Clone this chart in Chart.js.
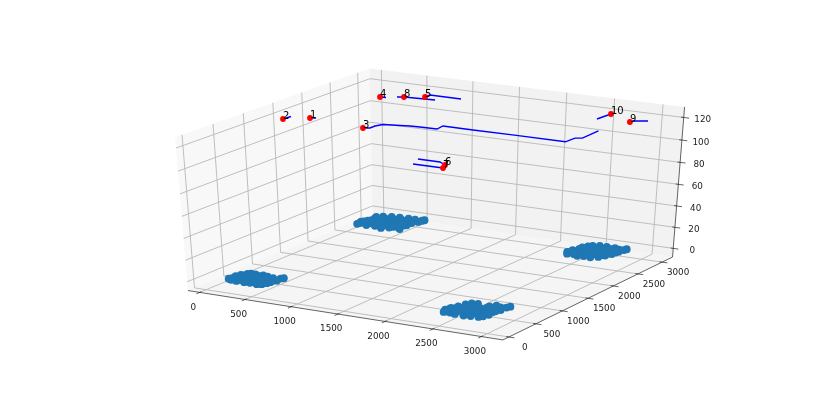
<!DOCTYPE html><html><head><meta charset="utf-8"><style>html,body{margin:0;background:#fff}canvas{display:block}</style>
<script src="https://cdn.jsdelivr.net/npm/chart.js@4"></script></head><body><canvas id="c" width="830" height="404"></canvas><script>
const xTicks=[0,500,1000,1500,2000,2500,3000];
const yTicks=[0,500,1000,1500,2000,2500,3000];
const zTicks=[0,20,40,60,80,100,120];
const xLim=[-130,3220],yLim=[-110,3220],zLim=[-8.3,129.2];
const pointLabels=['1','2','3','4','5','6','7','8','9','10'];
const pointX=[266,74,897,367,732,2258,2299,561,2879,2576];
const pointY=[1500,1342,1392,2578,2788,518,413,2690,2810,3016];
const altitude=120;
const route1=[[266,1500],[314,1527]];
const route2=[[74,1342],[82,1466]];
const route3=[[897,1392],[952,1423],[950,1515],[981,1604],[1063,1627],[1136,1645],[1225,1673],[1324,1683],[1498,1690],[1484,1822],[1800,1817],[2243,1826],[2745,1821],[2751,1992],[2808,2025],[2797,2352]];
const route4=[[367,2578],[426,2587]];
const route5=[[732,2788],[729,2886],[1067,2880]];
const route6=[[1940,595],[2164,593],[2258,518]];
const route7=[[1998,411],[2299,413]];
const route8=[[505,2657],[561,2690],[878,2723]];
const route9=[[2879,2810],[2884,2860],[3003,2928]];
const route10=[[2561,2769],[2576,3016]];
const clusterAX=[152,160,170,185,190,205,215,225,240,250,262,275,285,300,310,322,335,348,360,372,385,395,410,420,435,447,460,475,490,500,515,530,545,560,568,280,350,420,230,480,165,200,235,265,295,330,365,400,440,470,510,540,180,215,255,290,325,375,405,455,500,535,320,255,440,195,145,580];
const clusterAY=[280,190,340,150,290,400,170,430,240,140,350,425,285,180,400,235,140,310,430,200,370,145,285,410,175,350,245,138,395,300,160,350,260,415,335,225,385,335,310,215,240,345,375,190,355,280,270,240,300,190,250,300,215,320,290,240,335,310,195,290,345,215,185,395,380,260,170,440];
const clusterBX=[110,100,115,135,150,170,185,200,215,235,250,265,280,300,315,330,345,360,380,395,410,425,440,455,470,490,505,520,540,555,575,590,250,320,400,170,460,130,120,160,190,225,260,295,335,370,405,440,480,520,560,210,290,350,430,510,145,275,370,475,610,600];
const clusterBY=[2530,2620,2570,2690,2800,2610,2900,2740,2530,2850,2650,2930,2740,2550,2850,2690,2950,2600,2780,2505,2880,2680,2960,2560,2780,2865,2620,2950,2700,2820,2560,2890,2780,2600,2640,2790,2700,2860,2640,2720,2800,2620,2800,2680,2800,2700,2760,2680,2700,2780,2720,2860,2880,2860,2850,2720,2600,2600,2560,2600,2980,2950];
const clusterCX=[2425,2440,2450,2470,2485,2495,2510,2525,2540,2555,2570,2585,2600,2615,2630,2650,2665,2680,2700,2715,2730,2745,2760,2775,2790,2805,2820,2835,2850,2865,2560,2640,2720,2500,2790,2445,2480,2515,2550,2585,2620,2660,2700,2735,2770,2810,2845,2530,2600,2680,2750,2470,2560,2830,2640,2885,2870];
const clusterCY=[240,320,170,400,250,490,180,550,330,430,160,560,280,390,210,350,155,440,260,540,170,370,590,280,470,180,560,380,290,480,300,470,480,360,400,280,330,260,230,330,280,400,330,300,390,300,420,420,470,210,490,200,370,220,300,625,580];
const clusterDX=[2405,2420,2435,2450,2465,2480,2495,2510,2525,2540,2555,2570,2585,2600,2615,2630,2645,2660,2675,2690,2705,2720,2735,2750,2765,2780,2795,2810,2825,2560,2640,2700,2510,2760,2430,2470,2500,2535,2570,2605,2640,2675,2710,2745,2780,2815,2520,2590,2660,2730,2480,2620,2790,2450,2850,2840];
const clusterDY=[2600,2680,2540,2760,2620,2880,2560,2920,2690,2800,2520,2950,2640,2860,2540,2740,2950,2620,2840,2530,2900,2700,2950,2580,2820,2660,2920,2740,2850,2720,2830,2780,2780,2720,2640,2700,2640,2600,2700,2760,2660,2720,2780,2660,2740,2800,2860,2600,2880,2860,2600,2820,2860,2820,2970,2930];
const clusterZ=0;

// mplot3d default view (elev 30, azim -60, dist 10)
const N=[.4330127,-.75,.5],U=[.8660254,.5,0],V=[-.25,.4330127,.8660254],DIST=10;
const dot=(a,r)=>a[0]*r[0]+a[1]*r[1]+a[2]*r[2];
const norm=(v,l)=>(v-l[0])/(l[1]-l[0])-.5;
function proj(x,y,z){const r=[norm(x,xLim),norm(y,yLim),norm(z,zLim)],w=DIST-dot(N,r);return {x:dot(U,r)/w,y:dot(V,r)/w};}
const line=(arr)=>arr.map(p=>proj(p[0],p[1],altitude));
const GAP={x:null,y:null};
const [x0,x1]=xLim,[y0,y1]=yLim,[z0,z1]=zLim;
const grid=[];
for(const t of xTicks)grid.push(proj(t,y0,z0),proj(t,y1,z0),proj(t,y1,z1),GAP);
for(const t of yTicks)grid.push(proj(x1,t,z0),proj(x0,t,z0),proj(x0,t,z1),GAP);
for(const t of zTicks)grid.push(proj(x0,y0,t),proj(x0,y1,t),proj(x1,y1,t),GAP);
const dx=x1-x0,dy=y1-y0;
const marks=[];
for(const t of xTicks)marks.push(proj(t,y0+dy*.0083,z0),proj(t,y0-dy*.0167,z0),GAP);
for(const t of yTicks)marks.push(proj(x1-dx*.0083,t,z0),proj(x1+dx*.0167,t,z0),GAP);
for(const t of zTicks)marks.push(proj(x1-dx*.0083,y1,t),proj(x1+dx*.0167,y1,t),GAP);
const axes=[proj(x0,y0,z0),proj(x1,y0,z0),proj(x1,y1,z0),proj(x1,y1,z1)];
const pane=(pts,c,o)=>({data:pts.concat([pts[0]]),showLine:true,pointRadius:0,borderWidth:0,borderColor:'transparent',backgroundColor:c,fill:'shape',order:o});
const stroke=(pts,c,w,o)=>({data:pts,showLine:true,pointRadius:0,borderColor:c,borderWidth:w,fill:false,spanGaps:false,tension:0,order:o});
const cluster=(xs,ys)=>({data:xs.map((x,i)=>proj(x,ys[i],clusterZ)),showLine:false,pointRadius:3.9,pointBorderWidth:0,pointBackgroundColor:'#1f77b4',order:20});
const datasets=[
 pane([proj(x0,y0,z0),proj(x0,y1,z0),proj(x0,y1,z1),proj(x0,y0,z1)],'rgba(242,242,242,.5)',60),
 pane([proj(x0,y1,z0),proj(x1,y1,z0),proj(x1,y1,z1),proj(x0,y1,z1)],'rgba(230,230,230,.5)',59),
 pane([proj(x0,y0,z0),proj(x1,y0,z0),proj(x1,y1,z0),proj(x0,y1,z0)],'rgba(236,236,236,.5)',58),
 stroke(grid,'#b8b8b8',.9,40),
 stroke(marks,'#222',.7,31),
 stroke(axes,'#222',.7,30),
 cluster(clusterAX,clusterAY),cluster(clusterBX,clusterBY),cluster(clusterCX,clusterCY),cluster(clusterDX,clusterDY),
 ...[route1,route2,route3,route4,route5,route6,route7,route8,route9,route10].map(r=>stroke(line(r),'#0000ff',1.4,10)),
 {data:pointX.map((x,i)=>proj(x,pointY[i],altitude)),showLine:false,pointRadius:2.9,pointBorderWidth:0,pointBackgroundColor:'#ff0000',order:5}
];
const textPlugin={id:'text3d',afterDraw(ch){
 const c=ch.ctx,sx=ch.scales.x,sy=ch.scales.y;
 const at=(x,y,z)=>{const p=proj(x,y,z);return [sx.getPixelForValue(p.x),sy.getPixelForValue(p.y)];};
 c.save();c.fillStyle='#222';c.font='8.8px "DejaVu Sans"';c.textAlign='center';c.textBaseline='middle';
 xTicks.forEach(t=>{const [a,b]=at(t,y0,z0);c.fillText(String(t),a-6.5,b+15);});
 yTicks.forEach(t=>{const [a,b]=at(x1,t,z0);c.fillText(String(t),a+16,b+10.5);});
 zTicks.forEach(t=>{const [a,b]=at(x1,y1,t);c.fillText(String(t),a+19,b+2.5);});
 c.fillStyle='#000';c.font='10px "DejaVu Sans"';c.textAlign='left';c.textBaseline='alphabetic';
 pointLabels.forEach((l,i)=>{const [a,b]=at(pointX[i],pointY[i],altitude);c.fillText(l,a,b);});
 c.restore();
}};
new Chart(document.getElementById('c'),{type:'scatter',data:{datasets},plugins:[textPlugin],options:{
 responsive:false,animation:false,layout:{padding:0,autoPadding:false},
 plugins:{legend:{display:false},tooltip:{enabled:false},title:{display:false}},
 scales:{x:{type:'linear',display:false,min:-434/3635,max:(830-434)/3635},y:{type:'linear',display:false,min:(199.6-404)/1750,max:199.6/1750}}
}});
</script></body></html>
